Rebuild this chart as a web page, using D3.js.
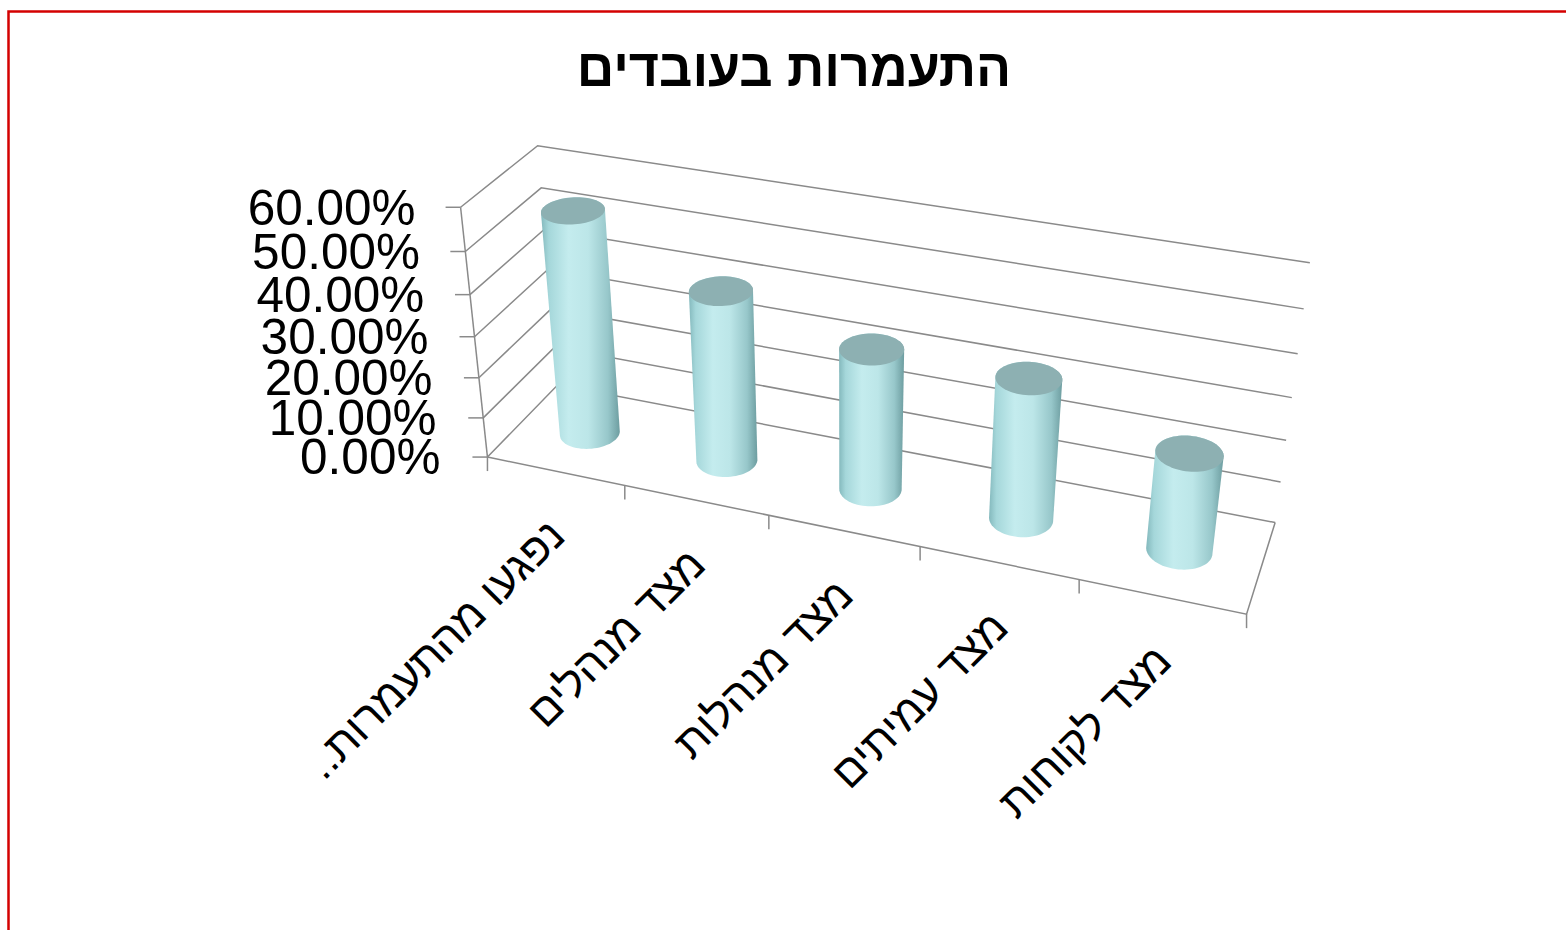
<!DOCTYPE html>
<html>
<head>
<meta charset="utf-8">
<script src="https://cdn.jsdelivr.net/npm/d3@7"></script>
<style>
  body { margin: 0; background: #fff; }
  svg { display: block; }
  text { font-family: "Liberation Sans", Arial, sans-serif; fill: #000; }
</style>
</head>
<body>
<div id="chart"></div>
<script>
'use strict';

const title = 'התעמרות בעובדים';
const categories = ['נפגעו מהתעמרות..', 'מצד מנהלים', 'מצד מנהלות', 'מצד עמיתים', 'מצד לקוחות'];
const values = [0.545, 0.415, 0.34, 0.337, 0.232];
const yTicks = [0, 0.1, 0.2, 0.3, 0.4, 0.5, 0.6];

// camera fit: unit box (x across, y up, z back) -> screen points
const cameraPairs = [
    [[0, 0, 0], [490, 457]], [[0, 1 / 6, 0], [485, 418]], [[0, 2 / 6, 0], [480, 378]],
    [[0, 3 / 6, 0], [474, 336]], [[0, 4 / 6, 0], [469, 294]], [[0, 5 / 6, 0], [463, 250]],
    [[0, 1, 0], [458, 207]],
    [[1, 0, 1], [1276, 520]], [[1, 1 / 6, 1], [1281, 482]], [[1, 2 / 6, 1], [1287, 441]],
    [[1, 3 / 6, 1], [1292, 398]], [[1, 4 / 6, 1], [1297, 354]], [[1, 5 / 6, 1], [1303, 309]],
    [[1, 1, 1], [1310, 262]],
    [[0.2, 0, 0], [627, 486]], [[0.4, 0, 0], [770, 516]], [[0.6, 0, 0], [919, 547]],
    [[0.8, 0, 0], [1078, 580]], [[1, 0, 0], [1246, 615]],
    [[0, 1, 1], [541, 146]], [[0, 5 / 6, 1], [543, 190]], [[0, 0, 1], [552, 384]]
];

function fitProjection(pairs) {
    const n = 11, s = 1000;
    const M = d3.range(n).map(() => new Array(n + 1).fill(0));
    const add = (row, rhs) => {
        for (let i = 0; i < n; i++) {
            for (let j = 0; j < n; j++) M[i][j] += row[i] * row[j];
            M[i][n] += row[i] * rhs;
        }
    };
    pairs.forEach(([[X, Y, Z], [u0, v0]]) => {
        const u = u0 / s, v = v0 / s;
        add([X, Y, Z, 1, 0, 0, 0, 0, -u * X, -u * Y, -u * Z], u);
        add([0, 0, 0, 0, X, Y, Z, 1, -v * X, -v * Y, -v * Z], v);
    });
    for (let c = 0; c < n; c++) {
        let piv = c;
        for (let r = c + 1; r < n; r++) if (Math.abs(M[r][c]) > Math.abs(M[piv][c])) piv = r;
        [M[c], M[piv]] = [M[piv], M[c]];
        for (let r = 0; r < n; r++) {
            if (r === c) continue;
            const f = M[r][c] / M[c][c];
            for (let j = c; j <= n; j++) M[r][j] -= f * M[c][j];
        }
    }
    const p = M.map((row, i) => row[n] / row[i]);
    return ([X, Y, Z]) => {
        const w = p[8] * X + p[9] * Y + p[10] * Z + 1;
        return [s * (p[0] * X + p[1] * Y + p[2] * Z + p[3]) / w,
                s * (p[4] * X + p[5] * Y + p[6] * Z + p[7]) / w];
    };
}

const proj = fitProjection(cameraPairs);

const width = 1566, height = 930;
const svg = d3.select('#chart').append('svg')
    .attr('width', width)
    .attr('height', height)
    .attr('viewBox', [0, 0, width, height]);

const x = d3.scaleBand().domain(categories).range([0, 1]);
const y = d3.scaleLinear().domain([0, 0.6]).range([0, 1]);
const depth = 0.5, rx = 0.04, rz = 0.2;

const line = d3.line();
const gridColor = '#8a8a8a';

// chart border
svg.append('rect')
    .attr('x', 8.5).attr('y', 11.5)
    .attr('width', 1700).attr('height', 1100)
    .attr('fill', 'none')
    .attr('stroke', '#d40000')
    .attr('stroke-width', 2.5);

svg.append('text')
    .attr('x', 794).attr('y', 86)
    .attr('text-anchor', 'middle')
    .style('font-size', '52px')
    .style('font-weight', 'bold')
    .text(title);

// walls
const walls = svg.append('g')
    .attr('fill', 'none')
    .attr('stroke', gridColor)
    .attr('stroke-width', 1.5);

walls.selectAll('path.grid')
    .data(yTicks)
    .join('path')
    .attr('class', 'grid')
    .attr('d', d => line([[0, y(d), 0], [0, y(d), 1], [1, y(d), 1]].map(proj)));

walls.append('path')
    .attr('d', line([[0, 0, 0], [1, 0, 0], [1, 0, 1]].map(proj)));
walls.append('path')
    .attr('d', line([[0, 0, 0], [0, 1, 0]].map(proj)));

// y ticks and labels
walls.selectAll('path.ytick')
    .data(yTicks)
    .join('path')
    .attr('class', 'ytick')
    .attr('d', d => {
        const [px, py] = proj([0, y(d), 0]);
        return line([[px - 15, py], [px, py]]);
    });

const fmt = d3.format('.2%');
svg.append('g').selectAll('text')
    .data(yTicks)
    .join('text')
    .attr('x', d => proj([0, y(d), 0])[0] - 45 - 2 * (1 - y(d)))
    .attr('y', d => proj([0, y(d), 0])[1])
    .attr('dy', '0.35em')
    .attr('text-anchor', 'end')
    .style('font-size', '49.5px')
    .text(d => fmt(d));

// category ticks
walls.selectAll('path.xtick')
    .data(d3.range(categories.length + 1))
    .join('path')
    .attr('class', 'xtick')
    .attr('d', i => {
        const [px, py] = proj([i / categories.length, 0, 0]);
        return line([[px, py], [px, py + 14]]);
    });

// category labels
svg.append('g').selectAll('text')
    .data(categories)
    .join('text')
    .attr('transform', d => {
        const [px, py] = proj([x(d) + x.bandwidth() / 2, 0, 0]);
        return `translate(${px + 12},${py + 67}) rotate(-45)`;
    })
    .attr('direction', 'rtl')
    .attr('text-anchor', 'start')
    .style('font-size', '44px')
    .text(d => d);

// cylinders
const defs = svg.append('defs');
const grad = defs.append('linearGradient')
    .attr('id', 'body')
    .attr('x1', 0).attr('x2', 1).attr('y1', 0).attr('y2', 0);
[[0, '#84b9bd'], [0.1, '#a5d7da'], [0.35, '#c4ecee'], [0.6, '#bce6e8'],
 [0.85, '#97c7ca'], [1, '#6d9da0']].forEach(([o, c]) => {
    grad.append('stop').attr('offset', o).attr('stop-color', c);
});

const ring = (cx, yy) => d3.range(0, 72).map(k => {
    const t = k / 72 * 2 * Math.PI;
    return proj([cx + rx * Math.cos(t), yy, depth + rz * Math.sin(t)]);
});

const bars = svg.append('g').selectAll('g')
    .data(categories.map((c, i) => ({c, v: values[i]})))
    .join('g');

bars.append('path')
    .attr('fill', 'url(#body)')
    .attr('d', d => {
        const cx = x(d.c) + x.bandwidth() / 2;
        const hull = d3.polygonHull(ring(cx, 0).concat(ring(cx, y(d.v))));
        return line(hull) + 'Z';
    });

bars.append('path')
    .attr('fill', '#8db0b2')
    .attr('d', d => line(ring(x(d.c) + x.bandwidth() / 2, y(d.v))) + 'Z');
</script>
</body>
</html>
